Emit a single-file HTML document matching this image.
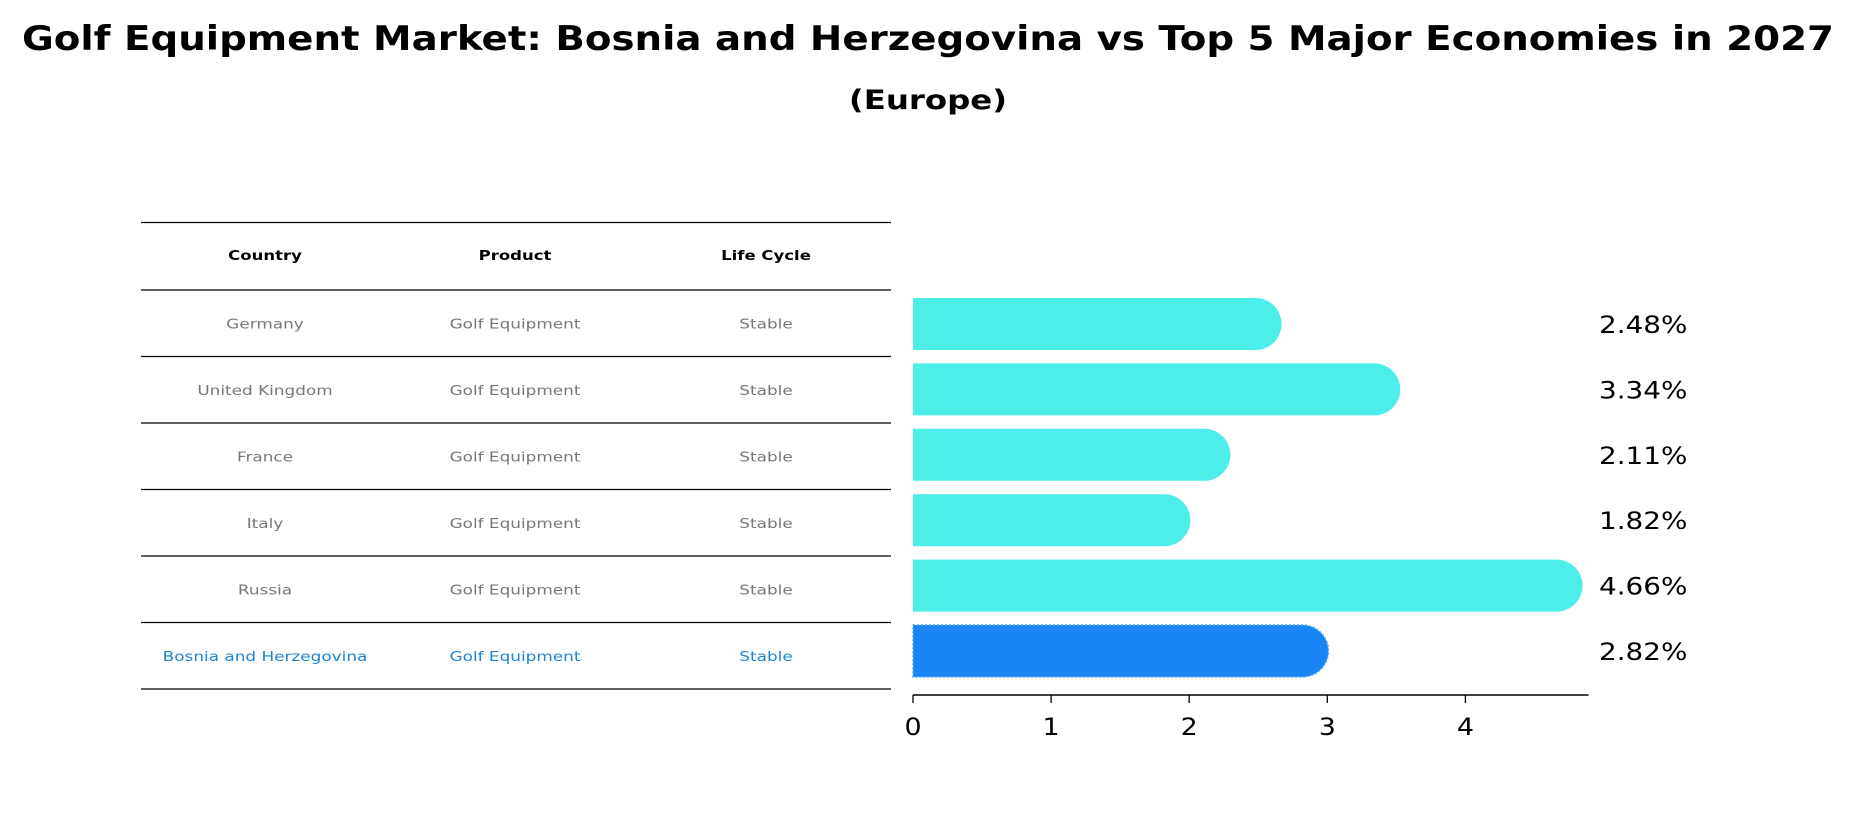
<!DOCTYPE html>
<html><head><meta charset="utf-8"><style>
html,body{margin:0;padding:0;background:#fff;}
svg{display:block;font-family:"DejaVu Sans","Liberation Sans",sans-serif;}
</style></head><body>
<svg width="1856" height="823" viewBox="0 0 1856 823">
<text transform="translate(928,50) scale(1.14,1)" text-anchor="middle" font-size="34" font-weight="bold">Golf Equipment Market: Bosnia and Herzegovina vs Top 5 Major Economies in 2027</text>
<text transform="translate(928,109) scale(1.2,1)" text-anchor="middle" font-size="27" font-weight="bold">(Europe)</text>
<g id="table"></g>
<g id="bars"></g>
</svg>
<script>
const countries=["Germany","United Kingdom","France","Italy","Russia","Bosnia and Herzegovina"];
const products=["Golf Equipment","Golf Equipment","Golf Equipment","Golf Equipment","Golf Equipment","Golf Equipment"];
const lifeCycles=["Stable","Stable","Stable","Stable","Stable","Stable"];
const values=[2.48,3.34,2.11,1.82,4.66,2.82];
const xTicks=[0,1,2,3,4];
const NS="http://www.w3.org/2000/svg";
function mk(t,a,p){const e=document.createElementNS(NS,t);for(const k in a)e.setAttribute(k,a[k]);p.appendChild(e);return e;}
function st(x,y,sx){return `translate(${x},${y}) scale(${sx},1)`;}
const tbl=document.getElementById('table');
const tx0=141,tx1=891,colX=[265,515,766];
function rowLine(y){const l=mk('line',{x1:tx0,x2:tx1,y1:y,y2:y,stroke:'#000','stroke-width':1.3},tbl);

}
rowLine(222.5);rowLine(290);
["Country","Product","Life Cycle"].forEach((h,i)=>{const t=mk('text',{transform:st(colX[i],260,1.27),'text-anchor':'middle','font-size':13,'font-weight':'bold'},tbl);t.textContent=h;

});
const rowY0=290,rowStep=(689-290)/6;
countries.forEach((c,i)=>{const cy=rowY0+rowStep*(i+0.5);const last=i===countries.length-1;const col=last?'#1a85d6':'#777';
[c,products[i],lifeCycles[i]].forEach((v,j)=>{const t=mk('text',{transform:st(colX[j],cy+5,1.25),'text-anchor':'middle','font-size':13.5,fill:col},tbl);t.textContent=v;

});
rowLine(rowY0+rowStep*(i+1));});
const g=document.getElementById('bars');
const x0=913,unit=138.1,axisY=695;
const xs=v=>x0+v*unit;
const barCy0=324,barStep=65.4,barH=52;
values.forEach((v,i)=>{const cy=barCy0+barStep*i;const last=i===values.length-1;const col=last?'#1a86f5':'#4deeea';
const x1=xs(v);
const p=mk('path',{d:`M${x0},${cy-barH/2} L${x1},${cy-barH/2} A${barH/2},${barH/2} 0 0 1 ${x1},${cy+barH/2} L${x0},${cy+barH/2} Z`,fill:col},g);
if(last){p.setAttribute('stroke','#4da8ff');p.setAttribute('stroke-dasharray','2 2');p.setAttribute('stroke-width','1.5');}


const t=mk('text',{transform:st(1599,cy+9,1.16),'font-size':24},g);t.textContent=v.toFixed(2)+'%';

});
const ax=mk('line',{x1:x0,x2:1588.5,y1:axisY,y2:axisY,stroke:'#000','stroke-width':1.5},g);


xTicks.forEach(v=>{const tk=mk('line',{x1:xs(v),x2:xs(v),y1:axisY,y2:axisY+8,stroke:'#000','stroke-width':1.3},g);


const t=mk('text',{transform:st(xs(v),735,1.12),'text-anchor':'middle','font-size':24},g);t.textContent=v;

});
</script>
</body></html>
